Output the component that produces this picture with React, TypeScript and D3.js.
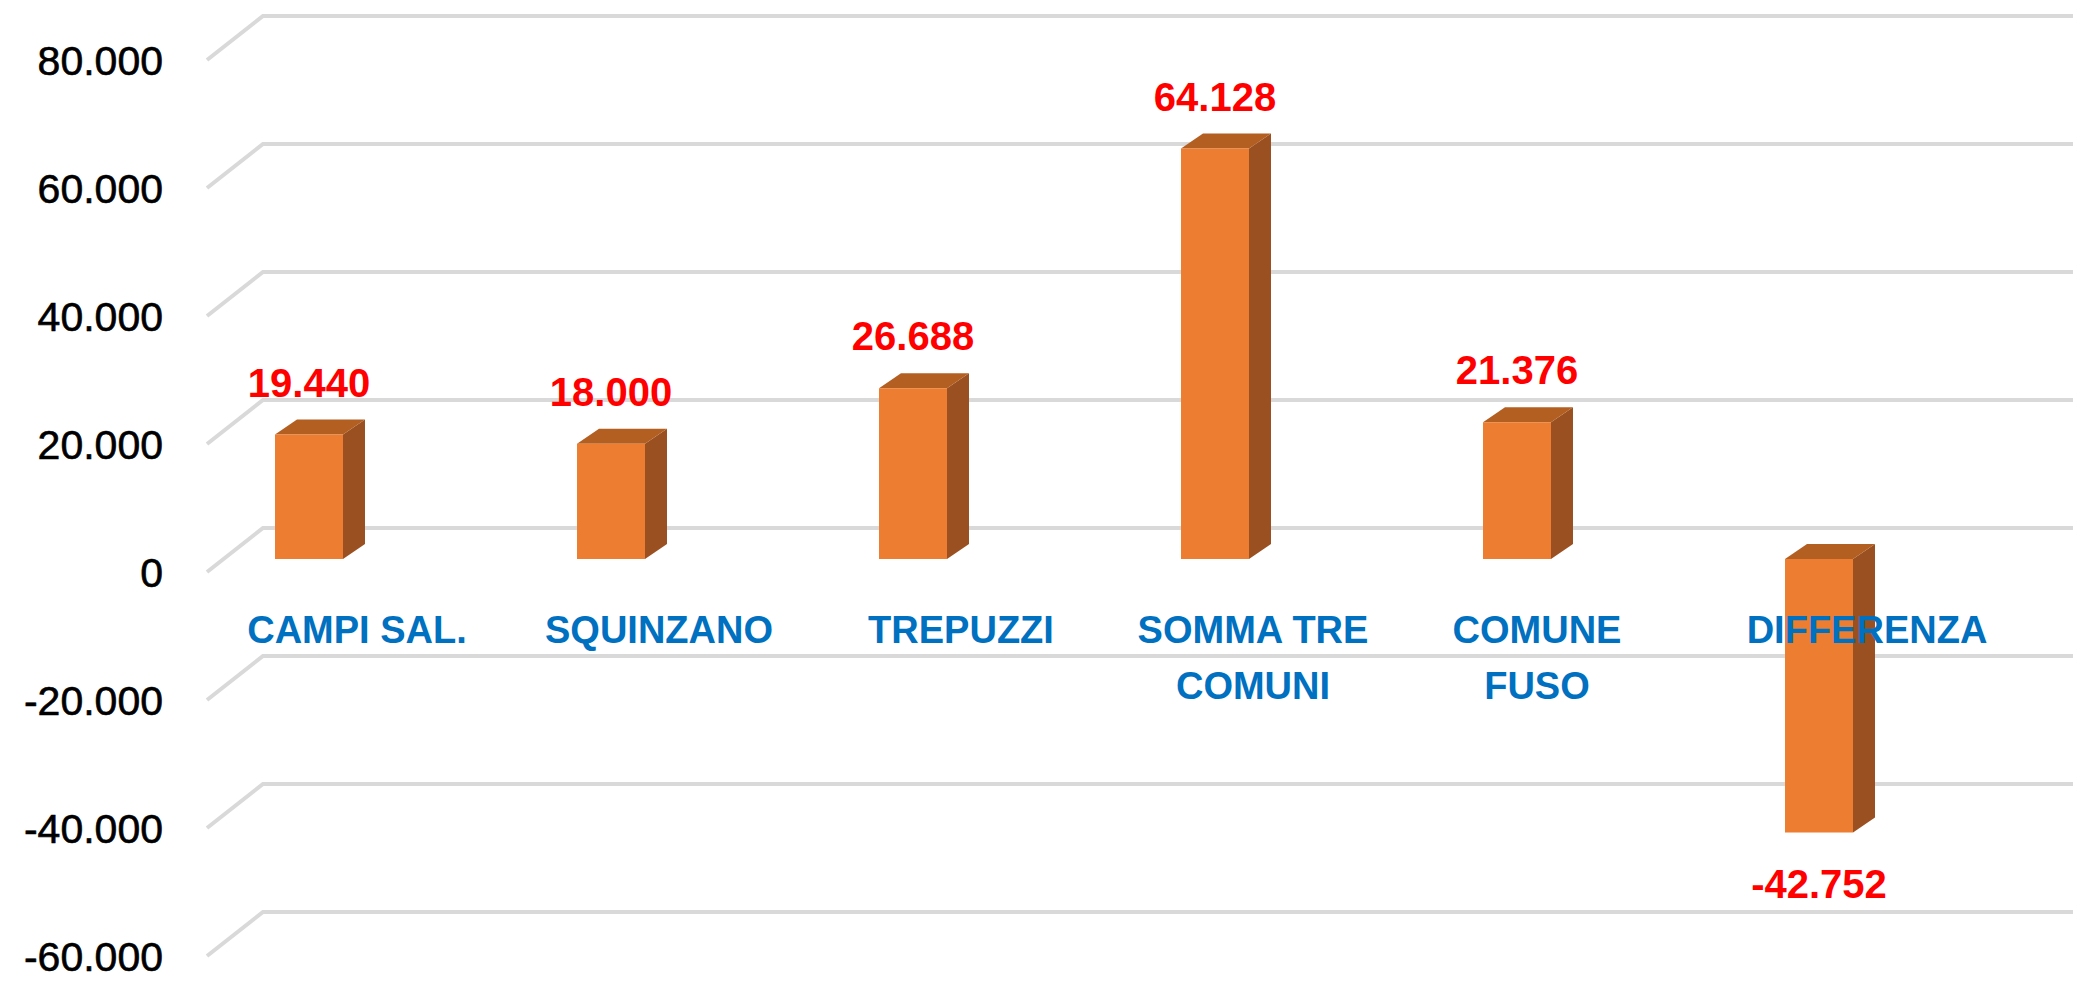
import React from "react";
import * as d3 from "d3";

const categories: string[][] = [
  ["CAMPI SAL."],
  ["SQUINZANO"],
  ["TREPUZZI"],
  ["SOMMA TRE", "COMUNI"],
  ["COMUNE", "FUSO"],
  ["DIFFERENZA"],
];
const values: number[] = [19440, 18000, 26688, 64128, 21376, -42752];
const tickValues: number[] = [80000, 60000, 40000, 20000, 0, -20000, -40000, -60000];

const W = 2073;
const H = 987;

const itLocale = d3.formatLocale({
  decimal: ",",
  thousands: ".",
  grouping: [3],
  currency: ["€", ""],
  minus: "-",
});
const fmt = itLocale.format(",d");

export default function App() {
  // back-wall scale for gridlines
  const yBack = d3.scaleLinear().domain([-60000, 80000]).range([912, 16]);
  // bar front plane sits lower than back wall
  const barDy = 31;
  const yBar = (v: number) => yBack(v) + barDy;
  const floorDx = 56;
  const floorDy = 44;
  const backX = 263;

  const x = d3
    .scaleBand<number>()
    .domain(d3.range(categories.length))
    .range([158, 158 + 302 * categories.length]);
  const barW = 68;
  const depthX = 22;
  const depthY = 15;
  const labelShift = [48, 48, 48, 38, 20, 48];

  return (
    <svg
      width={W}
      height={H}
      style={{ position: "absolute", left: 0, top: 0, background: "#fff" }}
    >
      {tickValues.map((t) => {
        const yb = yBack(t);
        return (
          <g key={t}>
            <path
              d={`M${backX - floorDx},${yb + floorDy} L${backX},${yb} L${W},${yb}`}
              fill="none"
              stroke="#D9D9D9"
              strokeWidth={4}
            />
            <text
              x={163}
              y={yb + floorDy}
              dy="0.36em"
              textAnchor="end"
              fontFamily="'Liberation Sans', Arial, sans-serif"
              fontSize={41}
              fill="#000"
              stroke="#000"
              strokeWidth={0.6}
            >
              {fmt(t)}
            </text>
          </g>
        );
      })}

      {values.map((v, i) => {
        const cx = (x(i) as number) + x.bandwidth() / 2;
        const x0 = cx - barW / 2;
        const x1 = cx + barW / 2;
        const yTop = Math.min(yBar(v), yBar(0));
        const yBot = Math.max(yBar(v), yBar(0));
        const front = `M${x0},${yTop} L${x1},${yTop} L${x1},${yBot} L${x0},${yBot} Z`;
        const side = `M${x1},${yTop} L${x1 + depthX},${yTop - depthY} L${x1 + depthX},${yBot - depthY} L${x1},${yBot} Z`;
        const top = `M${x0},${yTop} L${x0 + depthX},${yTop - depthY} L${x1 + depthX},${yTop - depthY} L${x1},${yTop} Z`;
        const labelY = v >= 0 ? yBar(v) - 38 : yBar(v) + 65;
        return (
          <g key={"b" + i}>
            <path d={side} fill="#9A5020" />
            <path d={top} fill="#B45F22" />
            <path d={front} fill="#ED7D31" />
            <text
              x={cx}
              y={labelY}
              textAnchor="middle"
              fontFamily="'Liberation Sans', Arial, sans-serif"
              fontWeight="bold"
              fontSize={40}
              fill="#FF0000"
            >
              {fmt(v)}
            </text>
          </g>
        );
      })}

      {categories.map((lines, i) => {
        const cx = (x(i) as number) + x.bandwidth() / 2 + labelShift[i];
        return (
          <text
            key={"c" + i}
            x={cx}
            y={643}
            textAnchor="middle"
            fontFamily="'Liberation Sans', Arial, sans-serif"
            fontWeight="bold"
            fontSize={38}
            fill="#0070C0"
          >
            {lines.map((l, j) => (
              <tspan key={j} x={cx} dy={j === 0 ? 0 : 56}>
                {l}
              </tspan>
            ))}
          </text>
        );
      })}
    </svg>
  );
}
